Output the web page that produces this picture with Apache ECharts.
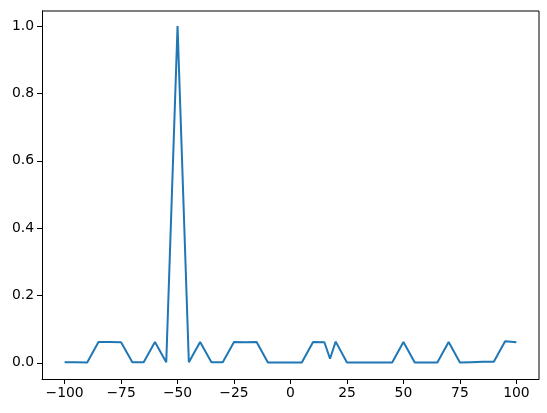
<!DOCTYPE html>
<html>
<head>
<meta charset="utf-8">
<script src="https://cdn.jsdelivr.net/npm/echarts@6/dist/echarts.min.js"></script>
<style>
  html, body { margin: 0; padding: 0; background: #fff; }
  #chart { width: 547px; height: 413px; }
</style>
</head>
<body>
<div id="chart"></div>
<script>
// values
var xValues = [-100, -95, -90, -85, -80, -75, -70, -65, -60, -55, -50, -45, -40, -35, -30, -25, -20, -15, -10, -5,
               0, 5, 10, 15, 17.5, 20, 25, 30, 35, 40, 45, 50, 55, 60, 65, 70, 75, 80, 85, 90, 95, 100];
var yValues = [0.002, 0.002, 0.001, 0.062, 0.062, 0.061, 0.002, 0.002, 0.062, 0.002, 1.0, 0.002, 0.062, 0.002, 0.002, 0.062, 0.061, 0.062, 0.001, 0.001,
               0.001, 0.001, 0.062, 0.061, 0.012, 0.063, 0.001, 0.001, 0.001, 0.001, 0.001, 0.062, 0.001, 0.001, 0.001, 0.062, 0.001, 0.002, 0.003, 0.003, 0.064, 0.061];
var xTicks = [-100, -75, -50, -25, 0, 25, 50, 75, 100];
var yTicks = [0.0, 0.2, 0.4, 0.6, 0.8, 1.0];

var points = xValues.map(function (x, i) { return [x, yValues[i]]; });

var chart = echarts.init(document.getElementById('chart'));
var font = { fontFamily: 'DejaVu Sans', fontSize: 13.9, color: '#000' };

function minus(s) { return String(s).replace('-', '\u2212'); }

chart.setOption({
    animation: false,
    grid: { left: 42, right: 8, top: 11, bottom: 34 },
    xAxis: {
        type: 'value',
        min: -110,
        max: 110,
        axisLine: { onZero: false, lineStyle: { color: '#000', width: 1 } },
        axisTick: { show: true, length: 5, customValues: xTicks, lineStyle: { color: '#000' } },
        axisLabel: Object.assign({
            customValues: xTicks,
            margin: 7,
            formatter: function (v) { return minus(v); }
        }, font),
        splitLine: { show: false }
    },
    yAxis: {
        type: 'value',
        min: -0.048,
        max: 1.045,
        axisLine: { show: true, onZero: false, lineStyle: { color: '#000', width: 1 } },
        axisTick: { show: true, length: 5, customValues: yTicks, lineStyle: { color: '#000' } },
        axisLabel: Object.assign({
            customValues: yTicks,
            margin: 8,
            formatter: function (v) { return v.toFixed(1); }
        }, font),
        splitLine: { show: false }
    },
    series: [{
        type: 'line',
        data: points,
        symbol: 'none',
        lineStyle: { color: '#1f77b4', width: 2 },
        itemStyle: { color: '#1f77b4' }
    }]
});

// top and right edges of the box, taken from the grid rect
var rect = chart.getModel().getComponent('grid').coordinateSystem.getRect();
chart.setOption({
    graphic: [{
        type: 'polyline',
        shape: { points: [[rect.x, rect.y], [rect.x + rect.width, rect.y], [rect.x + rect.width, rect.y + rect.height]] },
        style: { stroke: '#000', lineWidth: 1, fill: null },
        silent: true
    }]
});
</script>
</body>
</html>
